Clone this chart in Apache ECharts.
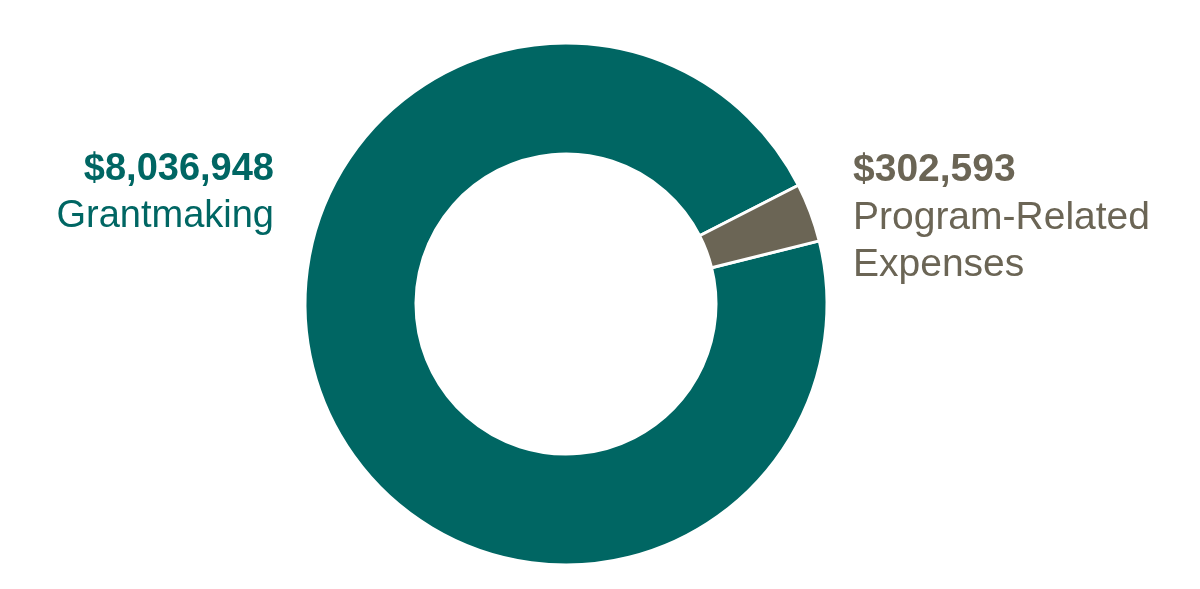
<!DOCTYPE html>
<html>
<head>
<meta charset="utf-8">
<script src="https://cdn.jsdelivr.net/npm/echarts@6/dist/echarts.min.js"></script>
<style>
  html, body { margin: 0; padding: 0; background: #ffffff; }
  #chart { width: 1200px; height: 589px; }
</style>
</head>
<body>
<div id="chart"></div>
<script>
// 数据
const categories = ['Grantmaking', 'Program-Related Expenses'];
const amounts = [8036948, 302593];
const labelLines = [['Grantmaking'], ['Program-Related', 'Expenses']];
const colors = ['#006663', '#6b6555'];

const fmt = v => '$' + v.toLocaleString('en-US');
const FONT = '"Liberation Sans", Arial, sans-serif';

const chart = echarts.init(document.getElementById('chart'));

// 文字标注
const graphics = [];
// 左侧 (Grantmaking)
graphics.push({
  type: 'text', x: 274, y: 170,
  style: { text: fmt(amounts[0]), fill: colors[0], font: 'bold 38px ' + FONT, align: 'right', verticalAlign: 'middle' }
});
labelLines[0].forEach((t, i) => {
  graphics.push({
    type: 'text', x: 274, y: 217 + i * 47,
    style: { text: t, fill: colors[0], font: '38px ' + FONT, align: 'right', verticalAlign: 'middle' }
  });
});
// 右侧 (Program-Related)
graphics.push({
  type: 'text', x: 853, y: 170,
  style: { text: fmt(amounts[1]), fill: colors[1], font: 'bold 39px ' + FONT, align: 'left', verticalAlign: 'middle' }
});
labelLines[1].forEach((t, i) => {
  graphics.push({
    type: 'text', x: 853, y: 218 + i * 47,
    style: { text: t, fill: colors[1], font: '39px ' + FONT, align: 'left', verticalAlign: 'middle' }
  });
});

const option = {
  backgroundColor: '#ffffff',
  animation: false,
  series: [{
    type: 'pie',
    center: [566, 304],
    radius: [150, 261],
    startAngle: 14,
    clockwise: true,
    label: { show: false },
    labelLine: { show: false },
    itemStyle: { borderColor: '#ffffff', borderWidth: 3 },
    emphasis: { disabled: true },
    data: categories.map((c, i) => ({
      name: c,
      value: amounts[i],
      itemStyle: { color: colors[i] }
    }))
  }],
  graphic: graphics
};

chart.setOption(option);
</script>
</body>
</html>
